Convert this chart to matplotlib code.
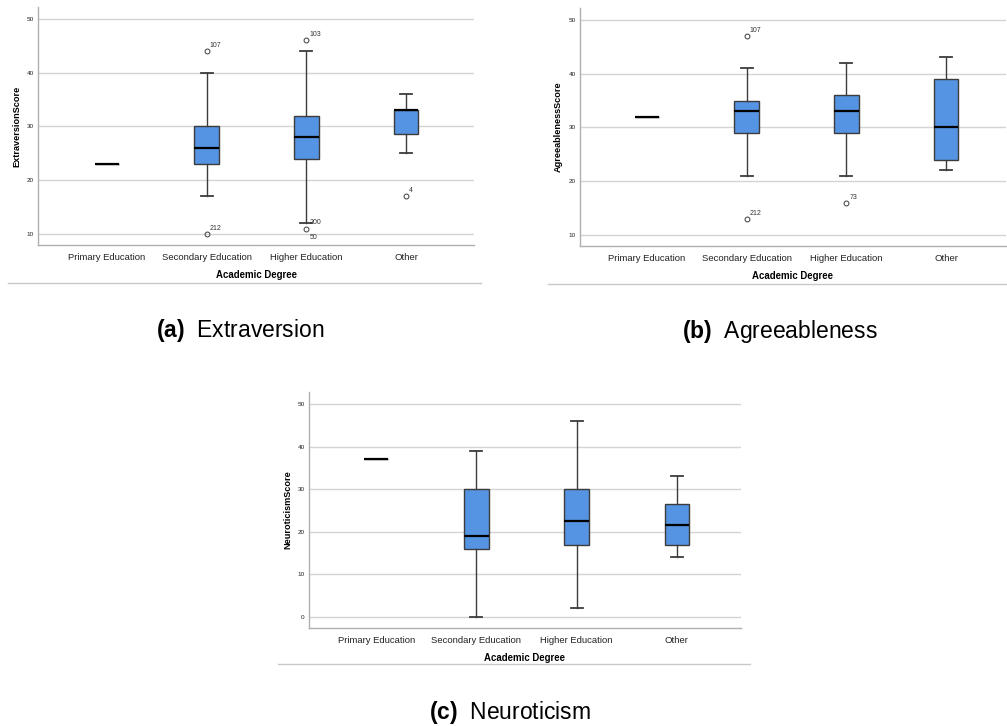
import numpy as np
import matplotlib.pyplot as plt
from matplotlib.lines import Line2D

plt.rcParams['font.family'] = ['Liberation Sans', 'DejaVu Sans']
plt.rcParams['mathtext.fontset'] = 'custom'
plt.rcParams['mathtext.rm'] = 'Liberation Sans'
plt.rcParams['mathtext.bf'] = 'Liberation Sans:bold'

categories = ['Primary Education', 'Secondary Education', 'Higher Education', 'Other']

# five-number summaries per category: (whislo, q1, med, q3, whishi)
extra_stats = [(23, 23, 23, 23, 23),
               (17, 23, 26, 30, 40),
               (12, 24, 28, 32, 44),
               (25, 28.5, 33, 33, 36)]
extra_fliers = [[], [44, 10], [46, 11], [17]]
extra_flier_labels = [[], ['107', '212'], ['103', '200'], ['4']]

agree_stats = [(32, 32, 32, 32, 32),
               (21, 29, 33, 35, 41),
               (21, 29, 33, 36, 42),
               (22, 24, 30, 39, 43)]
agree_fliers = [[], [47, 13], [16], []]
agree_flier_labels = [[], ['107', '212'], ['73'], []]

neuro_stats = [(37, 37, 37, 37, 37),
               (0, 16, 19, 30, 39),
               (2, 17, 22.5, 30, 46),
               (14, 17, 21.5, 26.5, 33)]
neuro_fliers = [[], [], [], []]
neuro_flier_labels = [[], [], [], []]

box_color = '#5594e2'
edge_color = '#3c3c3c'


def draw_panel(ax, stats, fliers, flier_labels, ylabel, ylim, xlim, yticks):
    bxp_stats = []
    for s, f in zip(stats, fliers):
        bxp_stats.append(dict(whislo=s[0], q1=s[1], med=s[2], q3=s[3],
                              whishi=s[4], fliers=f))
    ax.bxp(bxp_stats, positions=range(4), widths=0.245, patch_artist=True,
           showfliers=True, capwidths=0.12,
           boxprops=dict(facecolor=box_color, edgecolor=edge_color, linewidth=1.0),
           medianprops=dict(color='black', linewidth=1.6),
           whiskerprops=dict(color=edge_color, linewidth=1.0),
           capprops=dict(color=edge_color, linewidth=1.3),
           flierprops=dict(marker='o', markersize=3.5, markerfacecolor='none',
                           markeredgecolor=edge_color, markeredgewidth=0.7))
    for i, (f, labs) in enumerate(zip(fliers, flier_labels)):
        for v, lab in zip(f, labs):
            ax.text(i + 0.03, v + 0.4, lab, fontsize=5, color='#333333',
                    ha='left', va='bottom')
    ax.set_xlim(*xlim)
    ax.set_ylim(*ylim)
    ax.set_yticks(yticks)
    ax.set_xticks(range(4))
    ax.set_xticklabels(categories, fontsize=6.8)
    ax.tick_params(axis='both', length=0, colors='#222222')
    ax.tick_params(axis='y', labelsize=4.6, pad=3)
    ax.tick_params(axis='x', pad=6)
    ax.yaxis.grid(True, color='#d4d4d4', linewidth=1.0)
    ax.set_axisbelow(True)
    for side in ['top', 'right']:
        ax.spines[side].set_visible(False)
    for side in ['left', 'bottom']:
        ax.spines[side].set_color('#b0b0b0')
        ax.spines[side].set_linewidth(1.0)
    ax.set_ylabel(ylabel, fontsize=6.6, fontweight='bold', labelpad=4)
    ax.set_xlabel('Academic Degree', fontsize=6.9, fontweight='bold', labelpad=5.5)


fig = plt.figure(figsize=(10.07, 7.26), dpi=100)
W, H = 1007.0, 726.0


def axes_px(left, top, right, bottom):
    return fig.add_axes([left / W, 1 - bottom / H, (right - left) / W, (bottom - top) / H])


ax_a = axes_px(38, 7, 474, 245)
draw_panel(ax_a, extra_stats, extra_fliers, extra_flier_labels, 'ExtraversionScore',
           (7.95, 52.2), (-0.69, 3.68), [10, 20, 30, 40, 50])
# second case sharing the value 11 in Higher Education
ax_a.text(2.03, 9.3, '50', fontsize=5, color='#333333', ha='left', va='center')

ax_b = axes_px(580, 8, 1006, 246)
draw_panel(ax_b, agree_stats, agree_fliers, agree_flier_labels, 'AgreeablenessScore',
           (7.95, 52.2), (-0.67, 3.60), [10, 20, 30, 40, 50])

ax_c = axes_px(309, 392, 741, 628)
draw_panel(ax_c, neuro_stats, neuro_fliers, neuro_flier_labels, 'NeuroticismScore',
           (-2.6, 52.8), (-0.67, 3.64), [0, 10, 20, 30, 40, 50])

# thin rules under each panel
for x0, x1, y in [(8, 481, 283), (548, 1006, 284), (278, 750, 664)]:
    fig.add_artist(Line2D([x0 / W, x1 / W], [1 - y / H, 1 - y / H],
                          color='#c8c8c8', linewidth=1.0))

captions = [(240, 331, '(a)', 'Extraversion'),
            (780, 332, '(b)', 'Agreeableness'),
            (510, 713, '(c)', 'Neuroticism')]
for cx, cy, tag, name in captions:
    fig.text(cx / W, 1 - cy / H, r'$\mathbf{' + tag + '}$' + '  ' + name, fontsize=16.5,
             ha='center', va='center')

fig.savefig('out.png', dpi=100)
